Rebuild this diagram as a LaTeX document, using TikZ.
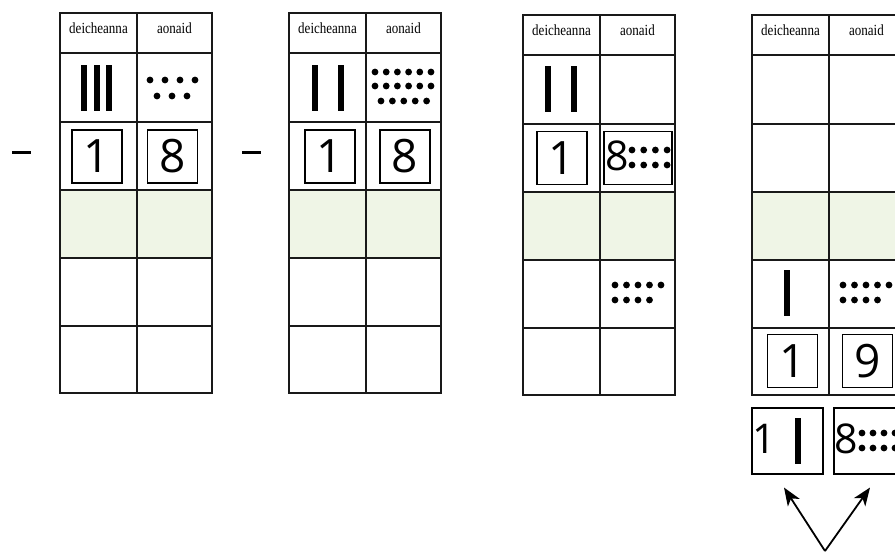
\documentclass[tikz,border=0pt]{standalone}
\usepackage{fontspec}
\setmainfont{Liberation Serif}
\newfontfamily\hdrfont[FakeStretch=0.84]{Liberation Serif}
\newfontfamily\digitfont{Open Sans}
\usetikzlibrary{arrows.meta}
\definecolor{rowgreen}{RGB}{239,245,230}
\tikzset{
  gridline/.style={draw=black!90, line width=1.4pt},
  header/.style={font=\hdrfont\fontsize{15.5}{17}\selectfont, anchor=base, inner sep=0pt},
  digitbox/.style={draw=black, line width=1.1pt, minimum width=50pt, minimum height=53pt, inner sep=0pt, font=\digitfont\fontsize{46}{50}\selectfont},
  plainbox/.style={draw=black, line width=1.1pt, inner sep=0pt},
  smalldigit/.style={inner sep=0pt, font=\digitfont\fontsize{41}{44}\selectfont},
  minusline/.style={line width=3pt},
  barfill/.style={fill=black},
  dotfill/.style={fill=black},
  arrowline/.style={line width=1.8pt, -{Stealth[length=18pt,width=14pt,inset=5pt]}},
}
% table: #1 name, #2 x, #3 y
\newcommand\numtable[3]{%
 \begin{scope}[shift={(#2,#3)}]
  \fill[rowgreen] (0,177) rectangle (152,245);
  \draw[gridline] (0,0) rectangle (152,380);
  \foreach \yy in {40,109,177,245,313} \draw[gridline] (0,\yy) -- (152,\yy);
  \draw[gridline] (77,0) -- (77,380);
  \node[header] (#1-h1) at (38.5,20.5) {deicheanna};
  \node[header] (#1-h2) at (114.5,20.5) {aonaid};
 \end{scope}}
% tally bar: centre x, top y
\newcommand\tallybar[2]{\fill[barfill] ({#1-3},#2) rectangle ++(6,46);}
% dot row: x0, y, count, step
\newcommand\dotrow[4]{\foreach \k in {1,...,#3} \fill[dotfill] ({#1+(\k-1)*#4},#2) circle[radius=3.4];}
\begin{document}
\begin{tikzpicture}[x=1pt,y=-1pt]
\useasboundingbox (0,0) rectangle (895,553);
\clip (0,0) rectangle (895,553);

% ---------- table 1 ----------
\draw[minusline] (12,153) -- (31,153);
\numtable{ta}{60}{13}
\tallybar{84}{65}\tallybar{97}{65}\tallybar{109}{65}
\dotrow{150}{80}{4}{15}
\dotrow{157}{96}{3}{15}
\node[digitbox] (ta-t) at (97,156.5) {1};
\node[digitbox] (ta-u) at (172.5,156.5) {8};

% ---------- table 2 ----------
\draw[minusline] (242,153) -- (261,153);
\numtable{tb}{289}{13}
\tallybar{315}{65}\tallybar{341}{65}
\dotrow{375}{72}{6}{11.2}
\dotrow{375}{86}{6}{11.2}
\dotrow{381}{101}{5}{11.4}
\node[digitbox] (tb-t) at (330,156.5) {1};
\node[digitbox] (tb-u) at (405,156.5) {8};

% ---------- table 3 ----------
\numtable{tc}{523}{15}
\tallybar{548}{66}\tallybar{573.5}{66}
\node[digitbox] (tc-t) at (562,158) {1};
\node[plainbox, minimum width=68pt, minimum height=53pt] (tc-u) at (638,158) {};
\node[smalldigit] (tc-u8) at (617,156) {8};
\dotrow{632}{150}{4}{11.7}
\dotrow{632}{165}{4}{11.7}
\dotrow{615}{285}{5}{11.5}
\dotrow{615}{300}{4}{11.5}

% ---------- table 4 ----------
\numtable{td}{752}{15}
\tallybar{787}{270}
\dotrow{843}{285}{5}{11.5}
\dotrow{843}{300}{4}{11.5}
\node[digitbox] (td-t) at (792.5,361) {1};
\node[digitbox] (td-u) at (867.5,361) {9};

% ---------- regrouped boxes ----------
\node[plainbox, minimum width=71pt, minimum height=66pt] (lowa) at (787.5,441) {};
\node[smalldigit] (lowa1) at (764.5,439) {1};
\tallybar{798}{418}
\node[plainbox, minimum width=68pt, minimum height=66pt] (lowb) at (868,441) {};
\node[smalldigit] (lowb8) at (846,439) {8};
\dotrow{862}{433}{4}{11}
\dotrow{862}{448}{4}{11}

% ---------- arrows ----------
\coordinate (apex) at (825,551);
\draw[arrowline] (apex) -- ([xshift=-3.5pt,yshift=-13pt]lowa.south);
\draw[arrowline] (apex) -- ([xshift=2pt,yshift=-13pt]lowb.south);
\end{tikzpicture}
\end{document}
